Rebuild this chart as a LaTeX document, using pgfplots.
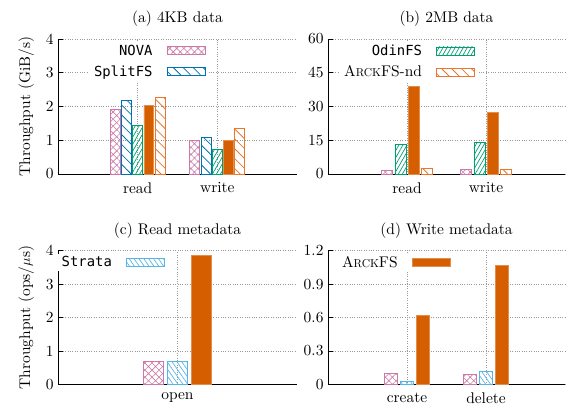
\documentclass[border=0pt]{standalone}
\usepackage{fontspec}
\setmainfont{lmroman10-regular.otf}[BoldFont=lmroman10-bold.otf, ItalicFont=lmroman10-italic.otf]
\setmonofont{DejaVu Sans Mono}[Scale=0.9]
\usepackage{pgfplots}
\pgfplotsset{compat=1.18}
\usetikzlibrary{patterns.meta}

\definecolor{nova}{HTML}{CC79A7}
\definecolor{splitfs}{HTML}{0072B2}
\definecolor{odinfs}{HTML}{009E73}
\definecolor{arckfs}{HTML}{D55E00}
\definecolor{arcknd}{HTML}{E8782E}
\definecolor{strata}{HTML}{56B4E9}

\newcommand{\chartfont}{\fontsize{15.5}{17}\selectfont}
\newcommand{\arck}{A{\fontsize{11.5}{13}\selectfont RCK}FS}

\pgfplotsset{
  panel/.style={
    scale only axis, width=239bp, height=135bp,
    ymin=0, xmin=0, xmax=3, xtick={1,2},
    axis x line*=bottom, axis y line*=left,
    axis line style={-, black, line width=0.8pt},
    ymajorgrids, xmajorgrids,
    grid style={dotted, gray!80, line width=0.7pt},
    major x tick style={draw=none},
    major y tick style={black, line width=0.8pt},
    major tick length=5bp,
    tick label style={font=\chartfont},
    yticklabel style={xshift=-1bp},
    label style={font=\chartfont},
    ylabel style={yshift=5bp},
    title style={font=\chartfont, yshift=3bp},
    /pgf/number format/assume math mode=true,
    ybar,
    every axis plot/.append style={line width=0.8pt,
      legend image code/.code={\draw[##1] (0bp,-4bp) rectangle (38bp,4bp);}},
    legend style={draw=none, fill=white, font=\chartfont, inner xsep=3bp,
      inner ysep=1bp, row sep=5bp, anchor=north east,
      /tikz/every odd column/.append style={column sep=12bp}},
    legend cell align=right, legend plot pos=right,
  },
  novabar/.style={draw=nova, pattern={Hatch[angle=45,distance=5bp,line width=0.6pt]}, pattern color=nova},
  splitbar/.style={draw=splitfs, pattern={Lines[angle=-45,distance=7bp,line width=0.8pt]}, pattern color=splitfs},
  odinbar/.style={draw=odinfs, pattern={Lines[angle=60,distance=3.5bp,line width=0.7pt]}, pattern color=odinfs},
  arckbar/.style={draw=arckfs!70, fill=arckfs},
  ndbar/.style={draw=arcknd, pattern={Lines[angle=-45,distance=7bp,line width=0.8pt]}, pattern color=arcknd},
  stratabar/.style={draw=strata, pattern={Lines[angle=-55,distance=4bp,line width=0.7pt]}, pattern color=strata},
}

\begin{document}
\begin{tikzpicture}
\useasboundingbox (0,0) rectangle (573bp,-409bp);

% (a) 4KB data
\begin{axis}[panel, at={(58bp,-174bp)}, anchor=south west,
  title={(a) 4KB data}, ylabel={Throughput (GiB/s)},
  ymax=4, ytick={0,1,2,3,4}, xticklabels={read,write},
  bar width=0.125,
  legend style={at={(0.63,0.98)}, font=\chartfont\ttfamily}]
\addplot[novabar, bar shift=-0.282] coordinates {(1,1.92) (2,1.00)};
\addlegendentry{NOVA}
\addplot[splitbar, bar shift=-0.141] coordinates {(1,2.19) (2,1.07)};
\addlegendentry{SplitFS}
\addplot[odinbar, bar shift=0, forget plot] coordinates {(1,1.45) (2,0.72)};
\addplot[arckbar, bar shift=0.141, forget plot] coordinates {(1,2.04) (2,1.00)};
\addplot[ndbar, bar shift=0.282, forget plot] coordinates {(1,2.27) (2,1.35)};
\end{axis}

% (b) 2MB data
\begin{axis}[panel, at={(328bp,-174bp)}, anchor=south west, width=237bp,
  title={(b) 2MB data},
  ymax=60, ytick={0,15,30,45,60}, xticklabels={read,write},
  bar width=0.14,
  legend style={at={(0.633,0.98)}}]
\addplot[novabar, bar shift=-0.25, forget plot] coordinates {(1,1.6) (2,1.9)};
\addplot[odinbar, bar shift=-0.083] coordinates {(1,13.0) (2,13.9)};
\addlegendentry{\ttfamily OdinFS}
\addplot[arckbar, bar shift=0.083, forget plot] coordinates {(1,39.0) (2,27.2)};
\addplot[ndbar, bar shift=0.25] coordinates {(1,2.7) (2,1.9)};
\addlegendentry{\arck-nd}
\end{axis}

% (c) Read metadata
\begin{axis}[panel, at={(58bp,-384.3bp)}, anchor=south west, height=133.6bp,
  title={(c) Read metadata}, ylabel={Throughput (ops/$\mu$s)},
  xmax=2, xtick={1}, xticklabels={open},
  ymax=4, ytick={0,1,2,3,4},
  bar width=0.167,
  legend style={at={(0.46,0.98)}, font=\chartfont\ttfamily}]
\addplot[novabar, bar shift=-0.2, forget plot] coordinates {(1,0.69)};
\addplot[stratabar, bar shift=0] coordinates {(1,0.69)};
\addlegendentry{Strata}
\addplot[arckbar, bar shift=0.2, forget plot] coordinates {(1,3.87)};
\end{axis}

% (d) Write metadata
\begin{axis}[panel, at={(328bp,-384.3bp)}, anchor=south west, width=237bp, height=133.6bp,
  title={(d) Write metadata},
  ymax=1.2, ytick={0,0.3,0.6,0.9,1.2}, yticklabels={0,0.3,0.6,0.9,1.2},
  xticklabels={create,delete},
  bar width=0.165,
  legend style={at={(0.53,0.98)}}]
\addplot[novabar, bar shift=-0.2, forget plot] coordinates {(1,0.10) (2,0.09)};
\addplot[stratabar, bar shift=0, forget plot] coordinates {(1,0.03) (2,0.113)};
\addplot[arckbar, bar shift=0.2] coordinates {(1,0.62) (2,1.07)};
\addlegendentry{\arck}
\end{axis}
\end{tikzpicture}
\end{document}
